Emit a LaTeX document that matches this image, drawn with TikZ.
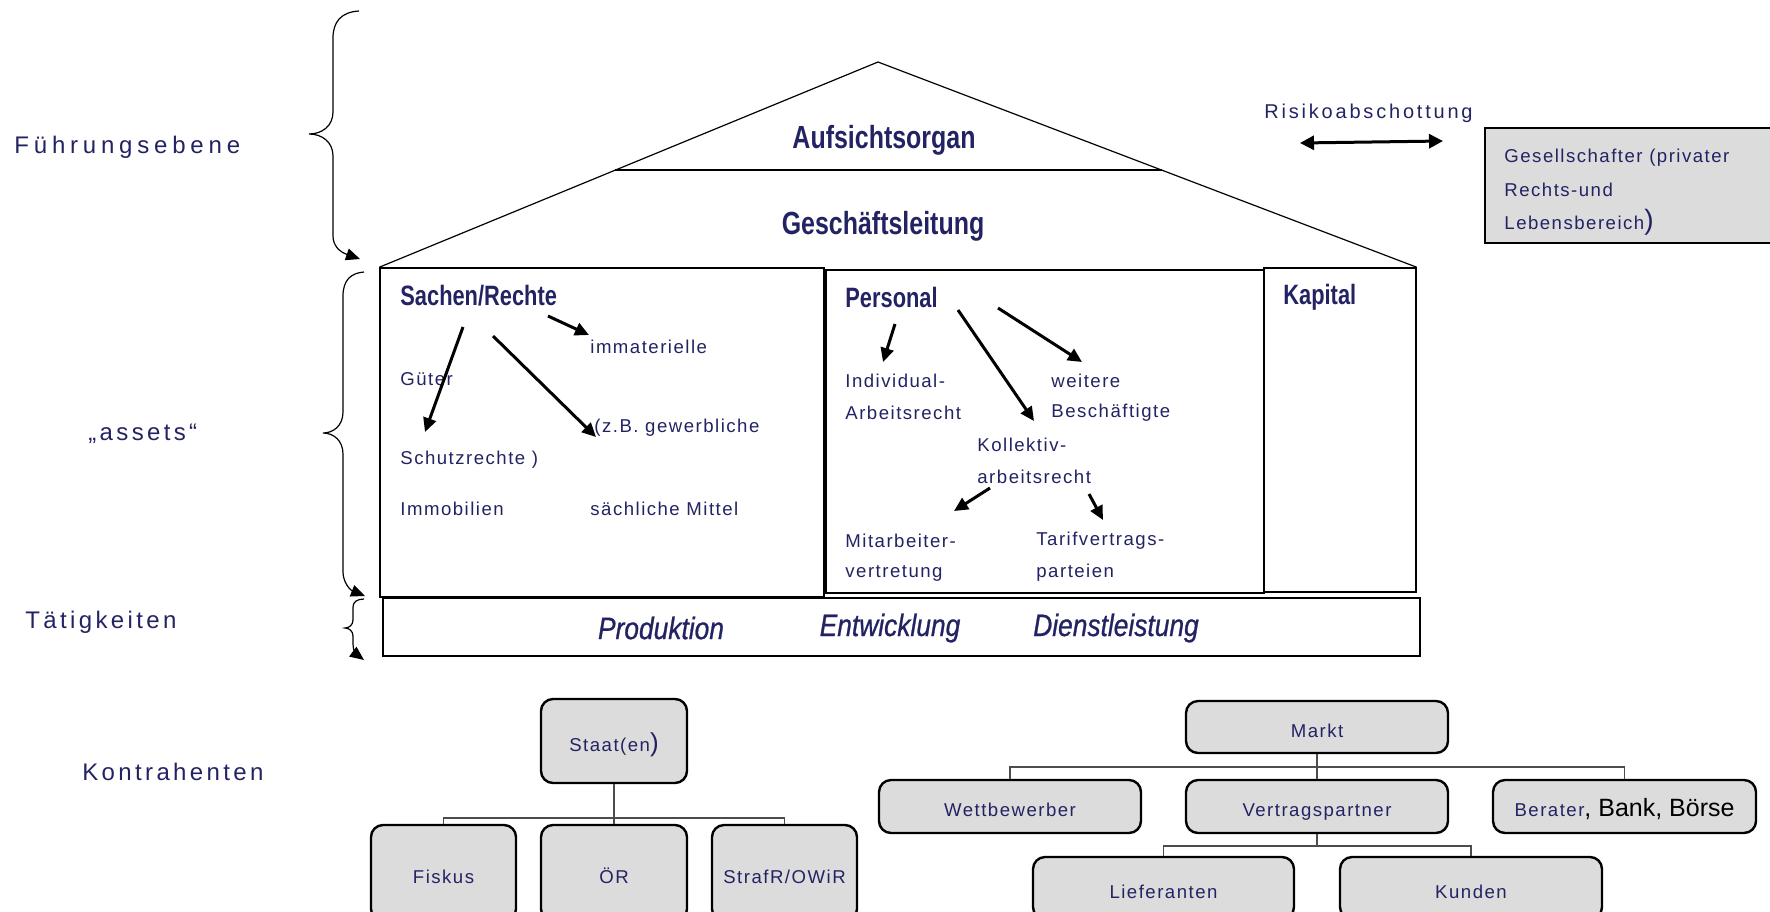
\documentclass[tikz,border=0pt]{standalone}
\usepackage{fontspec}
\setmainfont{Liberation Sans}
\usetikzlibrary{arrows.meta,calc}
\newfontfamily\smsp[LetterSpace=8]{Liberation Sans}
\newfontfamily\bigsp[LetterSpace=14]{Liberation Sans}
\newfontfamily\bigspw[LetterSpace=20]{Liberation Sans}
\newfontfamily\condb[FakeStretch=0.78]{Liberation Sans}
\newfontfamily\condi[FakeStretch=0.85,FakeBold=0.8]{Liberation Sans}
\newfontfamily\plainf{Liberation Sans}
\definecolor{navy}{RGB}{35,35,100}
\definecolor{boxgray}{RGB}{220,220,220}
\tikzset{
 lbl/.style={anchor=west,inner sep=0,text=navy,font=\fontsize{12}{14}\bigsp},
 sm/.style={anchor=west,inner sep=0,text=navy,font=\fontsize{9.3}{11}\smsp},
 ttl/.style={anchor=west,inner sep=0,text=navy,font=\fontsize{14}{16}\condb\bfseries},
 roofttl/.style={inner sep=0,text=navy,font=\fontsize{16}{18}\condb\bfseries},
 act/.style={inner sep=0,text=navy,font=\fontsize{15.5}{18}\condi\itshape},
 frame/.style={draw=black,line width=0.75pt,inner sep=0},
 rbox/.style={draw=black,line width=1.2pt,fill=boxgray,rounded corners=6pt,inner sep=0,text=navy,font=\fontsize{9.3}{11}\smsp,text height=10pt,text depth=0pt},
 conn/.style={draw=black!70,line width=0.6pt},
 arr/.style={line width=1.5pt,-{Triangle[length=7pt,width=6.5pt]}},
 bracearr/.style={line width=0.6pt,-{Triangle[length=7pt,width=6pt]}},
}
\begin{document}
\begin{tikzpicture}[x=0.5pt,y=-0.5pt]
\useasboundingbox (0,0) rectangle (1770,911);
\clip (0,0) rectangle (1770,911);

% ---------- house ----------
\node[frame,minimum width=222pt,minimum height=164.5pt] (sachen) at (602,432.5) {};
\node[frame,minimum width=219pt,minimum height=161.5pt] (personal) at (1045,431.5) {};
\node[frame,minimum width=76pt,minimum height=162pt] (kapital) at (1340,430) {};
\node[frame,minimum width=518.5pt,minimum height=29pt] (taet) at (901.5,627) {};

\coordinate (apex) at (878,62);
\draw[line width=0.6pt] (sachen.north west) -- (apex) -- (kapital.north east);
\coordinate (aufl) at (615,170);
\coordinate (aufr) at (1162,170);
\draw[line width=0.6pt] (aufl) -- (aufr);

\node[roofttl] (auf) at (884,140) {Aufsichtsorgan};
\node[roofttl] (gesl) at (883,226) {Geschäftsleitung};

% ---------- Sachen/Rechte ----------
\node[ttl] (tsach) at (400,296) {Sachen/Rechte};
\node[sm] (immat) at (590,347) {immaterielle};
\node[sm] (gueter) at (400,379) {Güter};
\node[sm] (zb) at (594,428) {(z.B. gewerbliche};
\node[sm] (schutz) at (400,460) {Schutzrechte )};
\node[sm] (immob) at (400,509) {Immobilien};
\node[sm] (saechl) at (590,509) {sächliche Mittel};
\coordinate (a1s) at (463,327); \coordinate (a1e) at (425,432);
\coordinate (a2s) at (493,336); \coordinate (a2e) at (596,437);
\coordinate (a3s) at (548,316); \coordinate (a3e) at (589,335);
\draw[arr] (a1s) -- (a1e);
\draw[arr] (a2s) -- (a2e);
\draw[arr] (a3s) -- (a3e);

% ---------- Personal ----------
\node[ttl] (tpers) at (845,297) {Personal};
\node[ttl] (tkap) at (1283,297) {Kapital};
\node[sm] (indiv1) at (845,381) {Individual-};
\node[sm] (indiv2) at (845,413) {Arbeitsrecht};
\node[sm] (weit1) at (1051,381) {weitere};
\node[sm] (weit2) at (1051,413) {Beschäftigte};
\node[sm] (koll1) at (977,445) {Kollektiv-};
\node[sm] (koll2) at (977,477) {arbeitsrecht};
\node[sm] (mit1) at (845,541) {Mitarbeiter-};
\node[sm] (mit2) at (845,573) {vertretung};
\node[sm] (tarif1) at (1036,541) {Tarifvertrags-};
\node[sm] (tarif2) at (1036,573) {parteien};
\coordinate (p1s) at (895,324); \coordinate (p1e) at (883,362);
\coordinate (p2s) at (958,310); \coordinate (p2e) at (1034,421);
\coordinate (p3s) at (998,308); \coordinate (p3e) at (1082,362);
\coordinate (k1s) at (990,488); \coordinate (k1e) at (954,511);
\coordinate (k2s) at (1089,494); \coordinate (k2e) at (1103,520);
\draw[arr] (p1s) -- (p1e);
\draw[arr] (p2s) -- (p2e);
\draw[arr] (p3s) -- (p3e);
\draw[arr] (k1s) -- (k1e);
\draw[arr] (k2s) -- (k2e);

% ---------- Taetigkeiten row ----------
\node[act] (prod) at (661,628) {Produktion};
\node[act] (entw) at (890,628) {Entwicklung};
\node[act] (dienst) at (1116,628) {Dienstleistung};

% ---------- left labels ----------
\node[lbl,font=\fontsize{12}{14}\bigspw] (fuehr) at (14,147) {Führungsebene};
\node[lbl] (assets) at (88,434) {„assets“};
\node[lbl] (taetl) at (25,622) {Tätigkeiten};
\node[lbl] (kontr) at (82,772) {Kontrahenten};

% ---------- braces ----------
\coordinate (b1t) at (359,11);
\coordinate (b1m) at (309,134);
\coordinate (b1b) at (360,259);
\draw[bracearr] (b1t) .. controls (341,12) and (333,22) .. (333,38) -- (333,112)
  .. controls (333,126) and (322,134) .. (b1m)
  .. controls (322,134) and (333,142) .. (333,156) -- (333,236)
  .. controls (333,246) and (340,252) .. (b1b);
\coordinate (b2t) at (364,272);
\coordinate (b2m) at (323,433);
\coordinate (b2b) at (365,596);
\draw[bracearr] (b2t) .. controls (351,273) and (343,280) .. (343,296) -- (343,412)
  .. controls (343,426) and (333,433) .. (b2m)
  .. controls (333,433) and (343,440) .. (343,454) -- (343,572)
  .. controls (343,582) and (350,590) .. (b2b);
\coordinate (b3t) at (364,599);
\coordinate (b3m) at (345,628);
\coordinate (b3b) at (364,660);
\draw[bracearr] (b3t) .. controls (357,599) and (353,602) .. (353,607) -- (353,620)
  .. controls (353,625) and (349,628) .. (b3m)
  .. controls (349,628) and (353,631) .. (353,636) -- (353,644)
  .. controls (353,650) and (356,654) .. (b3b);

% ---------- Gesellschafter ----------
\node[lbl,font=\fontsize{10}{12}\bigsp] (risiko) at (1264,113) {Risikoabschottung};
\node[draw=black,line width=0.75pt,fill=boxgray,minimum width=160pt,minimum height=57.5pt,inner sep=0] (ges) at (1645,185.5) {};
\coordinate (ra1) at (1300,143);
\coordinate (ra2) at (1443,141);
\draw[line width=1.5pt,{Triangle[length=7pt,width=7pt]}-{Triangle[length=7pt,width=7pt]}] (ra1) -- (ra2);
\node[sm] (ges1) at (1504,158) {Gesellschafter (privater};
\node[sm] (ges2) at (1504,190) {Rechts-und};
\node[sm] (ges3) at (1504,222) {Lebensbereich{\fontsize{14}{14}\selectfont)}};

% ---------- Staat ----------
\node[rbox,minimum width=73pt,minimum height=42pt] (staat) at (614,741) {Staat(en{\fontsize{13}{13}\selectfont)}};
\node[rbox,minimum width=72.5pt,minimum height=48pt] (fiskus) at (443.5,873) {Fiskus};
\node[rbox,minimum width=73pt,minimum height=48pt] (oer) at (614,873) {ÖR};
\node[rbox,minimum width=72.5pt,minimum height=48pt] (strafr) at (784.5,873) {StrafR/OWiR};
\coordinate (sj) at (614,818);
\draw[conn] (staat.south) -- (sj) -- (oer.north);
\draw[conn] (fiskus.north) |- (sj) -| (strafr.north);

% ---------- Markt ----------
\node[rbox,minimum width=131pt,minimum height=26pt] (markt) at (1317,727) {Markt};
\node[rbox,minimum width=131pt,minimum height=26.5pt] (wett) at (1010,806.5) {Wettbewerber};
\node[rbox,minimum width=131pt,minimum height=26.5pt] (vert) at (1317,806.5) {Vertragspartner};
\node[rbox,minimum width=131.5pt,minimum height=26.5pt] (berater) at (1624.5,806.5) {Berater{\plainf\fontsize{12.5}{14}\selectfont\color{black}, Bank, Börse}};
\node[rbox,minimum width=130.5pt,minimum height=31pt] (lief) at (1163.5,888) {Lieferanten};
\node[rbox,minimum width=131pt,minimum height=31pt] (kunden) at (1471,888) {Kunden};
\coordinate (mj) at (1317,767);
\draw[conn] (markt.south) -- (mj) -- (vert.north);
\draw[conn] (wett.north) |- (mj) -| (berater.north);
\coordinate (vj) at (1317,846);
\draw[conn] (vert.south) -- (vj);
\draw[conn] (lief.north) |- (vj) -| (kunden.north);
\end{tikzpicture}
\end{document}
